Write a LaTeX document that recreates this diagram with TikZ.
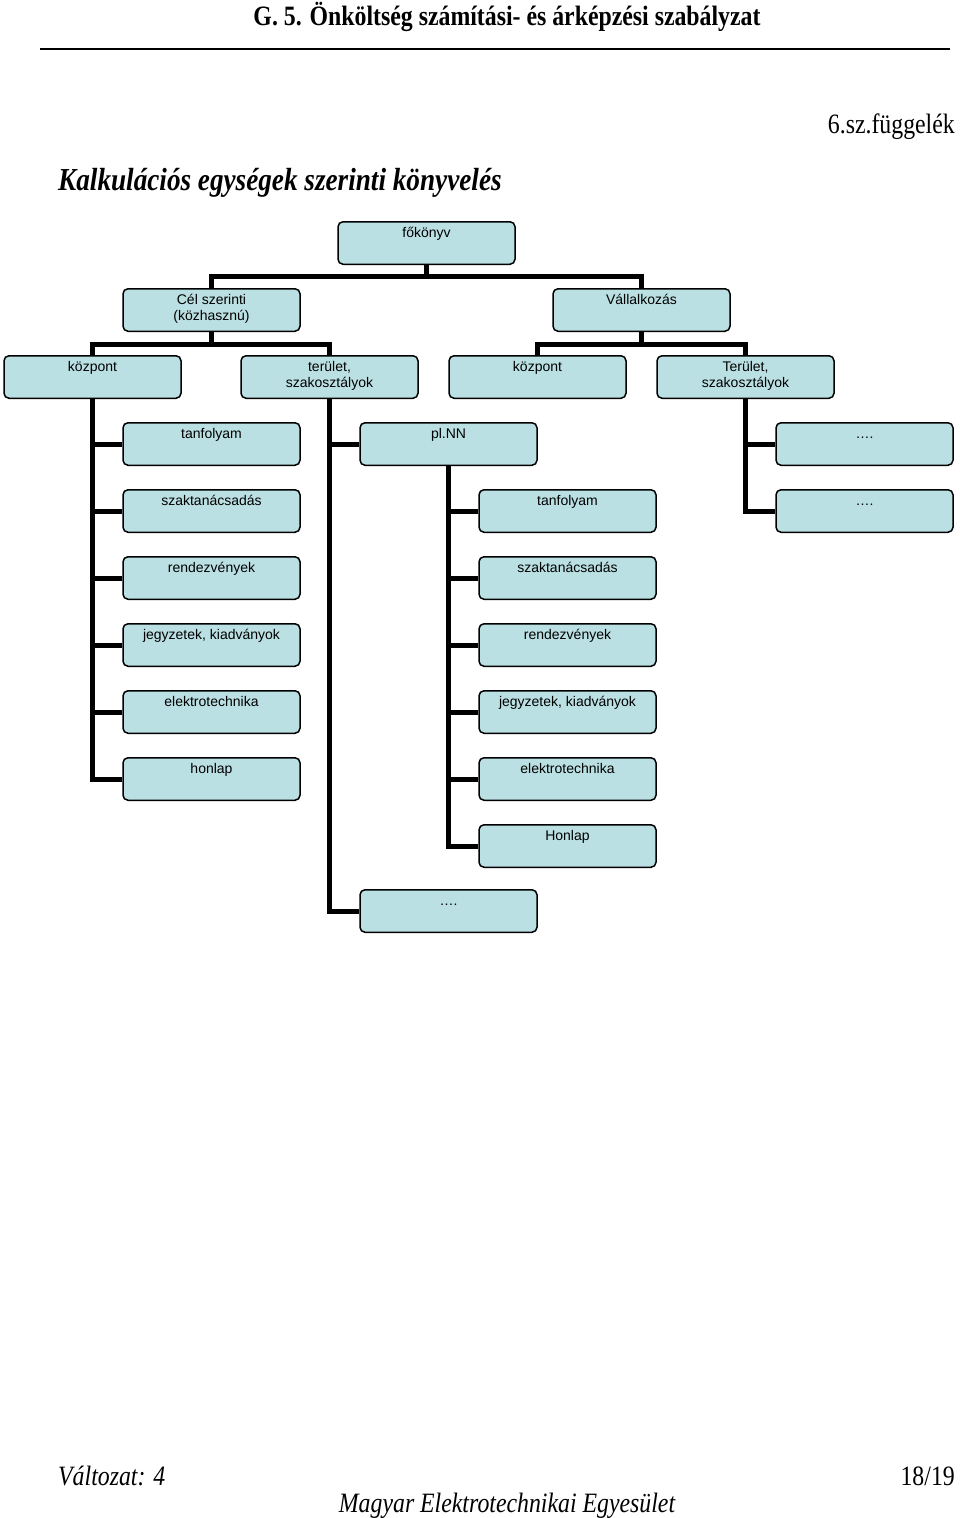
\documentclass[tikz,border=0pt]{standalone}
\usepackage{fontspec}
\setmainfont{Liberation Serif}[FakeStretch=0.85]
\newfontfamily\boxfont{Liberation Sans}
\definecolor{boxfill}{RGB}{187,224,227}
\newcommand{\bxt}[1]{\parbox[t][32.5pt][t]{167pt}{\centering\strut #1}}

\begin{document}
\begin{tikzpicture}[x=1pt,y=-1pt]
\tikzset{ box/.style={draw, line width=1.5pt, rounded corners=5pt, fill=boxfill, anchor=north,
            inner sep=5pt, font=\boxfont\fontsize{14}{16}\selectfont},
          conn/.style={line width=5pt},
          serif/.style={inner sep=0pt, anchor=base, font=\fontsize{28}{30}\selectfont} }
\useasboundingbox (0,0) rectangle (960,1518);

% fejlec
\node [serif, font=\bfseries\fontsize{28}{30}\selectfont] (hd) at (507,25) {G. 5. Önköltség számítási- és árképzési szabályzat};
\draw [line width=2pt] (40,49) -- (950,49);
\node [serif, anchor=base east] (app) at (955,133) {6.sz.függelék};
\node [serif, anchor=base west, font=\bfseries\itshape\fontsize{32}{34}\selectfont] (ttl) at (58,190) {Kalkulációs egységek szerinti könyvelés};

% felso szintek
\node [box] (fo)   at (426.5,221) {\bxt{főkönyv}};
\node [box] (cel)  at (211.5,288) {\bxt{Cél szerinti\\(közhasznú)}};
\node [box] (vall) at (641.5,288) {\bxt{Vállalkozás}};
\node [box] (kp1)  at (92.5,355)  {\bxt{központ}};
\node [box] (ter1) at (329.5,355) {\bxt{terület,\\szakosztályok}};
\node [box] (kp2)  at (537.5,355) {\bxt{központ}};
\node [box] (ter2) at (745.5,355) {\bxt{Terület,\\szakosztályok}};

\draw [conn] (fo.south) -- ++(0,11) -| (cel.north);
\draw [conn] (fo.south) -- ++(0,11) -| (vall.north);
\draw [conn] (cel.south) -- ++(0,12) -| (kp1.north);
\draw [conn] (cel.south) -- ++(0,12) -| (ter1.north);
\draw [conn] (vall.south) -- ++(0,12) -| (kp2.north);
\draw [conn] (vall.south) -- ++(0,12) -| (ter2.north);

% kozpont alatt
\foreach \t [count=\i from 0] in {tanfolyam, szaktanácsadás, rendezvények, {jegyzetek, kiadványok}, elektrotechnika, honlap} {
  \node [box] (a\i) at (211.5,422+67*\i) {\bxt{\t}};
  \draw [conn] (kp1.south) |- (a\i.west);
}

% terulet alatt
\node [box] (pl)  at (448.5,422) {\bxt{pl.NN}};
\node [box] (etc) at (448.5,889) {\bxt{….}};
\draw [conn] (ter1.south) |- (pl.west);
\draw [conn] (ter1.south) |- (etc.west);

\foreach \t [count=\i from 0] in {tanfolyam, szaktanácsadás, rendezvények, {jegyzetek, kiadványok}, elektrotechnika, Honlap} {
  \node [box] (b\i) at (567.5,489+67*\i) {\bxt{\t}};
  \draw [conn] (pl.south) |- (b\i.west);
}

% vallalkozas terulet alatt
\foreach \i in {0,1} {
  \node [box] (c\i) at (864.5,422+67*\i) {\bxt{….}};
  \draw [conn] (ter2.south) |- (c\i.west);
}

% lablec
\node [serif, anchor=base west, font=\itshape\fontsize{28}{30}\selectfont] (ver) at (58,1485) {Változat: 4};
\node [serif, anchor=base east] (pg) at (955,1485) {18/19};
\node [serif, font=\itshape\fontsize{28}{30}\selectfont] (org) at (507,1512) {Magyar Elektrotechnikai Egyesület};

\end{tikzpicture}
\end{document}
